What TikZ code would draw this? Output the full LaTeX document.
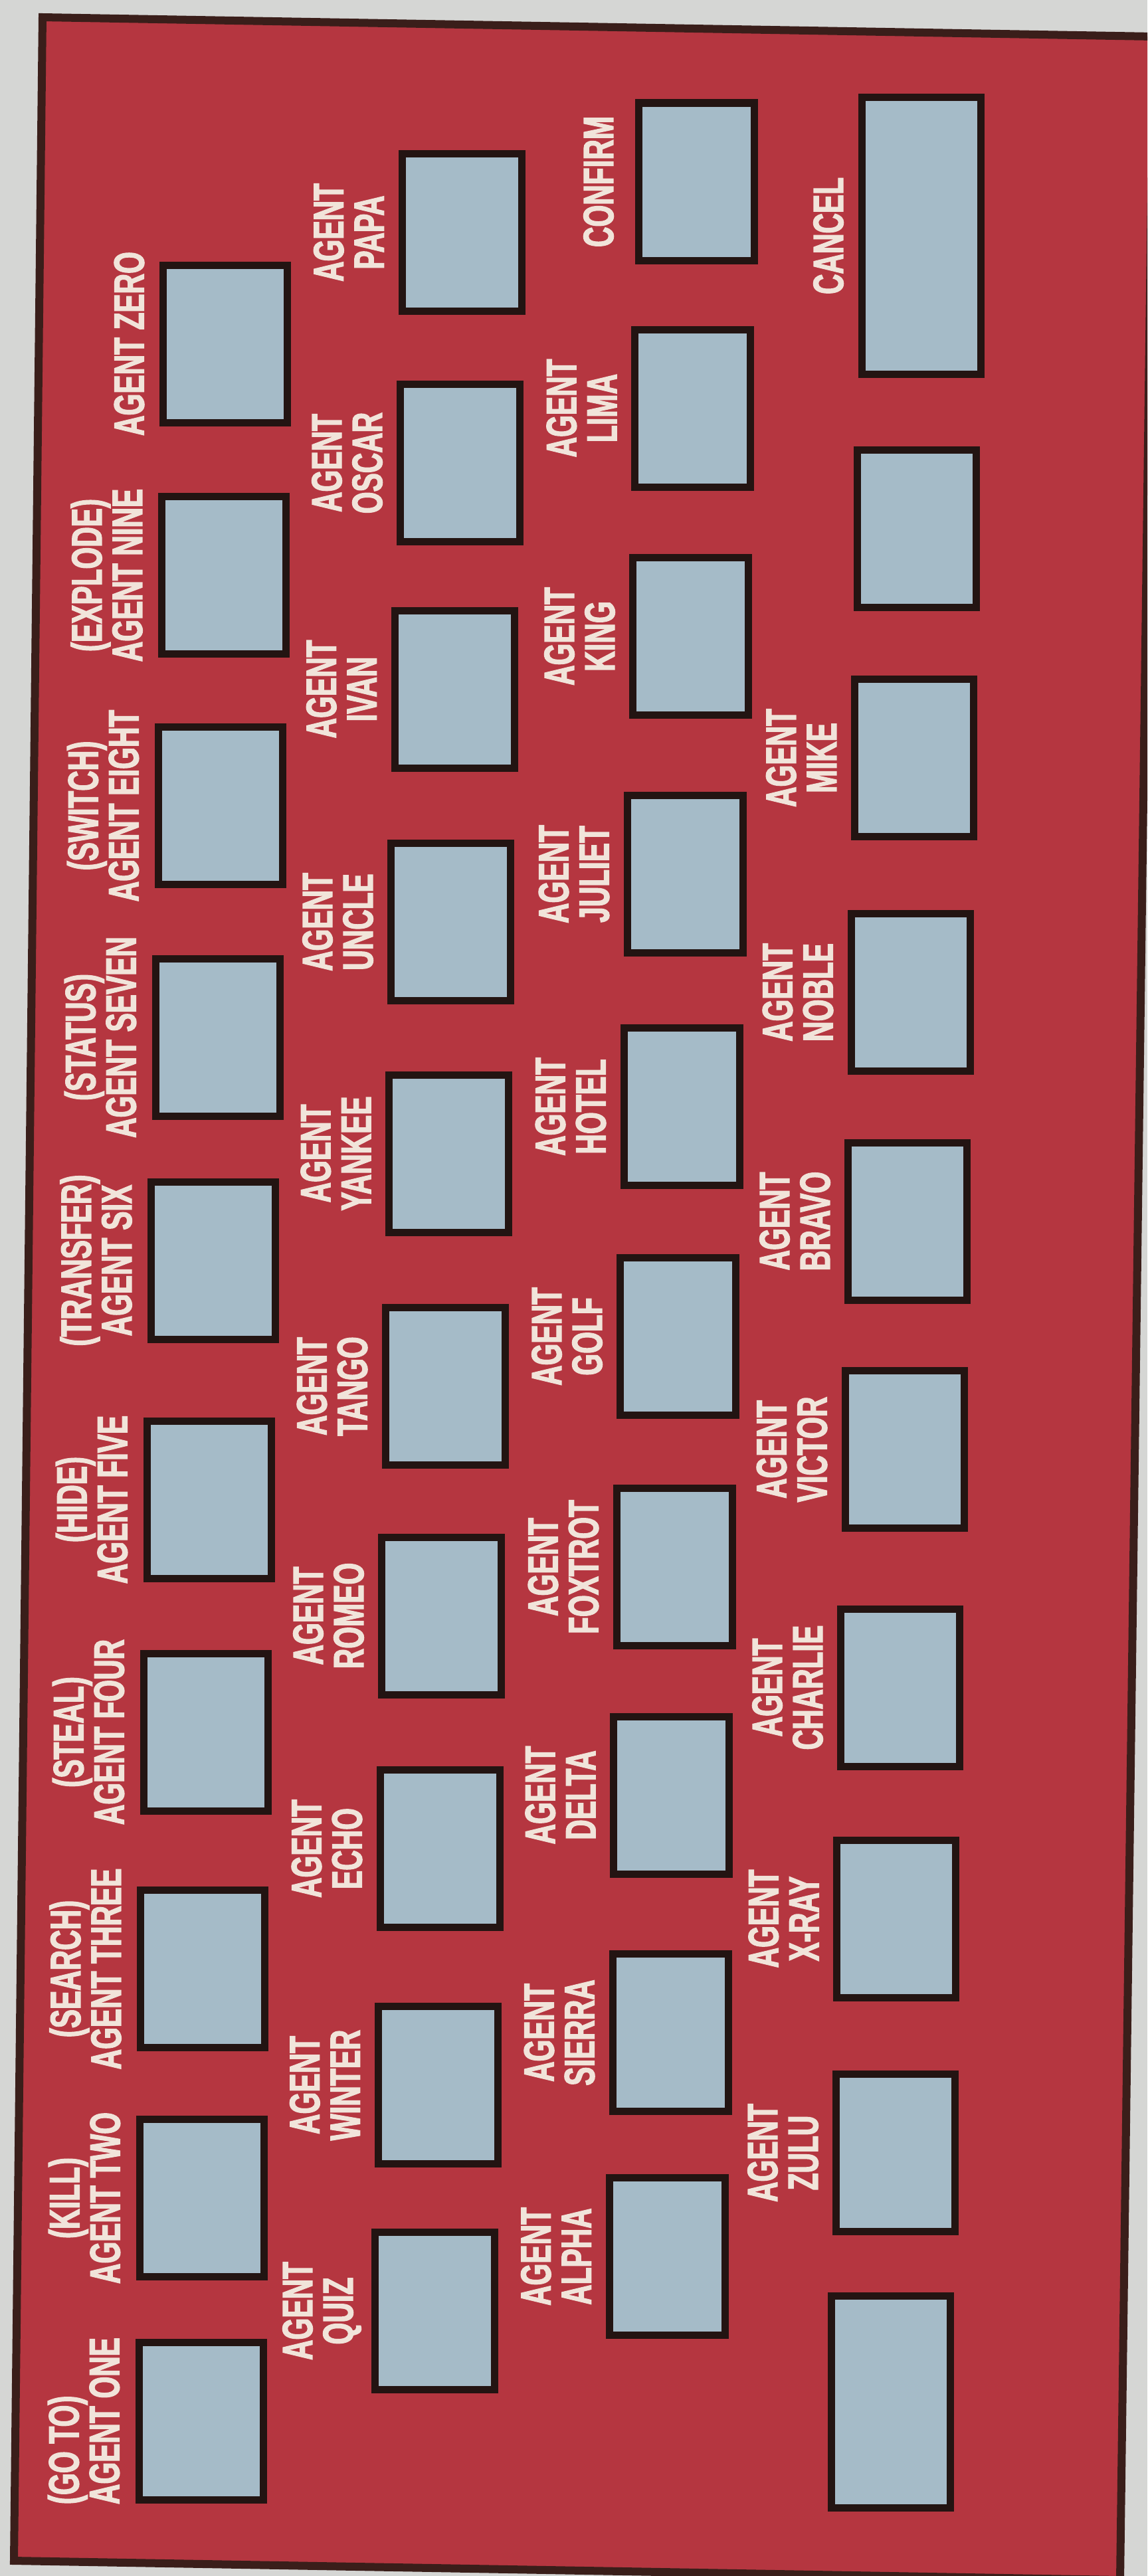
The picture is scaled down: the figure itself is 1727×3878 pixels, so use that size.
\documentclass[tikz,border=0pt]{standalone}
\usepackage{fontspec}
\newfontfamily\keyfont[FakeStretch=0.66,FakeBold=2]{Liberation Sans}
\definecolor{paper}{RGB}{213,214,212}
\definecolor{board}{RGB}{181,54,64}
\definecolor{frameline}{RGB}{58,30,26}
\definecolor{keyfill}{RGB}{165,187,200}
\definecolor{keyline}{RGB}{35,20,18}
\definecolor{labtext}{RGB}{241,228,218}
\tikzset{
  keybox/.style={draw=keyline, line width=11pt, fill=keyfill, inner sep=0pt, minimum height=237pt},
  colA/.style={keybox, minimum width=187pt},
  colB/.style={keybox, minimum width=180pt},
  colC/.style={keybox, minimum width=174pt},
  colD/.style={keybox, minimum width=179pt},
  lab/.style={text=labtext, font=\keyfont\bfseries\fontsize{64}{61}\selectfont, rotate=90, align=center, inner sep=0pt},
}
\begin{document}
\begin{tikzpicture}[x=1pt,y=-1pt]
\useasboundingbox (0,0) rectangle (1727,3878);
\clip (0,0) rectangle (1727,3878);
\fill[paper] (0,0) rectangle (1727,3878);
% board with frame
\coordinate (bTL) at (64,26);
\coordinate (bTR) at (1736,55);
\coordinate (bBR) at (1686,3884);
\coordinate (bBL) at (21,3855);
\fill[board] (bTL) -- (bTR) -- (bBR) -- (bBL) -- cycle;
\draw[frameline, line width=12pt, line join=miter] (bTL) -- (bTR) -- (bBR) -- (bBL) -- cycle;

% ---- column A keys
\node[colA] (kZero)  at (338.5,517.5) {};
\node[colA] (kNine)  at (337,866) {};
\node[colA] (kEight) at (331.5,1213) {};
\node[colA] (kSeven) at (327.5,1561.5) {};
\node[colA] (kSix)   at (321,1897.5) {};
\node[colA] (kFive)  at (314.5,2257.5) {};
\node[colA] (kFour)  at (309.5,2607.5) {};
\node[colA] (kThree) at (305,2964) {};
\node[colA] (kTwo)   at (303.5,3309) {};
\node[colA] (kOne)   at (302.5,3644.5) {};
% ---- column B keys
\node[colB] (kPapa)   at (695,350) {};
\node[colB] (kOscar)  at (692.5,697) {};
\node[colB] (kIvan)   at (684,1037.5) {};
\node[colB] (kUncle)  at (678.5,1388) {};
\node[colB] (kYankee) at (675.5,1736.5) {};
\node[colB] (kTango)  at (670,2087) {};
\node[colB] (kRomeo)  at (664.5,2432.5) {};
\node[colB] (kEcho)   at (662,2783) {};
\node[colB] (kWinter) at (659,3139) {};
\node[colB] (kQuiz)   at (654.5,3479) {};
% ---- column C keys
\node[colC] (kConfirm) at (1048,273.5) {};
\node[colC] (kLima)    at (1042.5,614.5) {};
\node[colC] (kKing)    at (1039.5,958) {};
\node[colC] (kJuliet)  at (1031,1316) {};
\node[colC] (kHotel)   at (1026,1666) {};
\node[colC] (kGolf)    at (1020.5,2012) {};
\node[colC] (kFoxtrot) at (1015,2359) {};
\node[colC] (kDelta)   at (1010.5,2702.5) {};
\node[colC] (kSierra)  at (1009,3060) {};
\node[colC] (kAlpha)   at (1004,3397) {};
% ---- column D keys
\node[colD, minimum height=417pt] (kCancel) at (1386.5,355) {};
\node[colD] (kBlankTop) at (1380,795.5) {};
\node[colD] (kMike)    at (1375.5,1141) {};
\node[colD] (kNoble)   at (1370.5,1494) {};
\node[colD] (kBravo)   at (1366,1838.5) {};
\node[colD] (kVictor)  at (1361.5,2182) {};
\node[colD] (kCharlie) at (1355,2540.5) {};
\node[colD] (kXray)    at (1349,2888.5) {};
\node[colD] (kZulu)    at (1348,3241) {};
\node[colD, minimum height=319pt] (kBlankBot) at (1341,3616) {};

% ---- column A labels
\node[lab] (lZero)  at ([xshift=-45pt]kZero.west) {AGENT ZERO};
\node[lab] (lNine)  at ([xshift=-77.5pt]kNine.west) {(EXPLODE)\\AGENT NINE};
\node[lab] (lEight) at ([xshift=-77.5pt]kEight.west) {(SWITCH)\\AGENT EIGHT};
\node[lab] (lSeven) at ([xshift=-77.5pt]kSeven.west) {(STATUS)\\AGENT SEVEN};
\node[lab] (lSix)   at ([xshift=-77.5pt]kSix.west) {(TRANSFER)\\AGENT SIX};
\node[lab] (lFive)  at ([xshift=-77.5pt]kFive.west) {(HIDE)\\AGENT FIVE};
\node[lab] (lFour)  at ([xshift=-77.5pt]kFour.west) {(STEAL)\\AGENT FOUR};
\node[lab] (lThree) at ([xshift=-77.5pt]kThree.west) {(SEARCH)\\AGENT THREE};
\node[lab] (lTwo)   at ([xshift=-77.5pt]kTwo.west) {(KILL)\\AGENT TWO};
\node[lab, align=left] (lOne) at ([xshift=-77.5pt]kOne.west) {(GO TO)\\AGENT ONE};
% ---- column B labels
\node[lab] (lPapa)   at ([xshift=-74.5pt]kPapa.west) {AGENT\\PAPA};
\node[lab] (lOscar)  at ([xshift=-74.5pt]kOscar.west) {AGENT\\OSCAR};
\node[lab] (lIvan)   at ([xshift=-74.5pt]kIvan.west) {AGENT\\IVAN};
\node[lab] (lUncle)  at ([xshift=-74.5pt]kUncle.west) {AGENT\\UNCLE};
\node[lab] (lYankee) at ([xshift=-74.5pt]kYankee.west) {AGENT\\YANKEE};
\node[lab] (lTango)  at ([xshift=-74.5pt]kTango.west) {AGENT\\TANGO};
\node[lab] (lRomeo)  at ([xshift=-74.5pt]kRomeo.west) {AGENT\\ROMEO};
\node[lab] (lEcho)   at ([xshift=-74.5pt]kEcho.west) {AGENT\\ECHO};
\node[lab] (lWinter) at ([xshift=-74.5pt]kWinter.west) {AGENT\\WINTER};
\node[lab] (lQuiz)   at ([xshift=-74.5pt]kQuiz.west) {AGENT\\QUIZ};
% ---- column C labels
\node[lab] (lConfirm) at ([xshift=-54.5pt]kConfirm.west) {CONFIRM};
\node[lab] (lLima)    at ([xshift=-74.5pt]kLima.west) {AGENT\\LIMA};
\node[lab] (lKing)    at ([xshift=-74.5pt]kKing.west) {AGENT\\KING};
\node[lab] (lJuliet)  at ([xshift=-74.5pt]kJuliet.west) {AGENT\\JULIET};
\node[lab] (lHotel)   at ([xshift=-74.5pt]kHotel.west) {AGENT\\HOTEL};
\node[lab] (lGolf)    at ([xshift=-74.5pt]kGolf.west) {AGENT\\GOLF};
\node[lab] (lFoxtrot) at ([xshift=-74.5pt]kFoxtrot.west) {AGENT\\FOXTROT};
\node[lab] (lDelta)   at ([xshift=-74.5pt]kDelta.west) {AGENT\\DELTA};
\node[lab] (lSierra)  at ([xshift=-74.5pt]kSierra.west) {AGENT\\SIERRA};
\node[lab] (lAlpha)   at ([xshift=-74.5pt]kAlpha.west) {AGENT\\ALPHA};
% ---- column D labels
\node[lab] (lCancel)  at ([xshift=-44.5pt]kCancel.west) {CANCEL};
\node[lab] (lMike)    at ([xshift=-74.5pt]kMike.west) {AGENT\\MIKE};
\node[lab] (lNoble)   at ([xshift=-74.5pt]kNoble.west) {AGENT\\NOBLE};
\node[lab] (lBravo)   at ([xshift=-74.5pt]kBravo.west) {AGENT\\BRAVO};
\node[lab] (lVictor)  at ([xshift=-74.5pt]kVictor.west) {AGENT\\VICTOR};
\node[lab] (lCharlie) at ([xshift=-74.5pt]kCharlie.west) {AGENT\\CHARLIE};
\node[lab] (lXray)    at ([xshift=-74.5pt]kXray.west) {AGENT\\X-RAY};
\node[lab] (lZulu)    at ([xshift=-74.5pt]kZulu.west) {AGENT\\ZULU};
\end{tikzpicture}
\end{document}
